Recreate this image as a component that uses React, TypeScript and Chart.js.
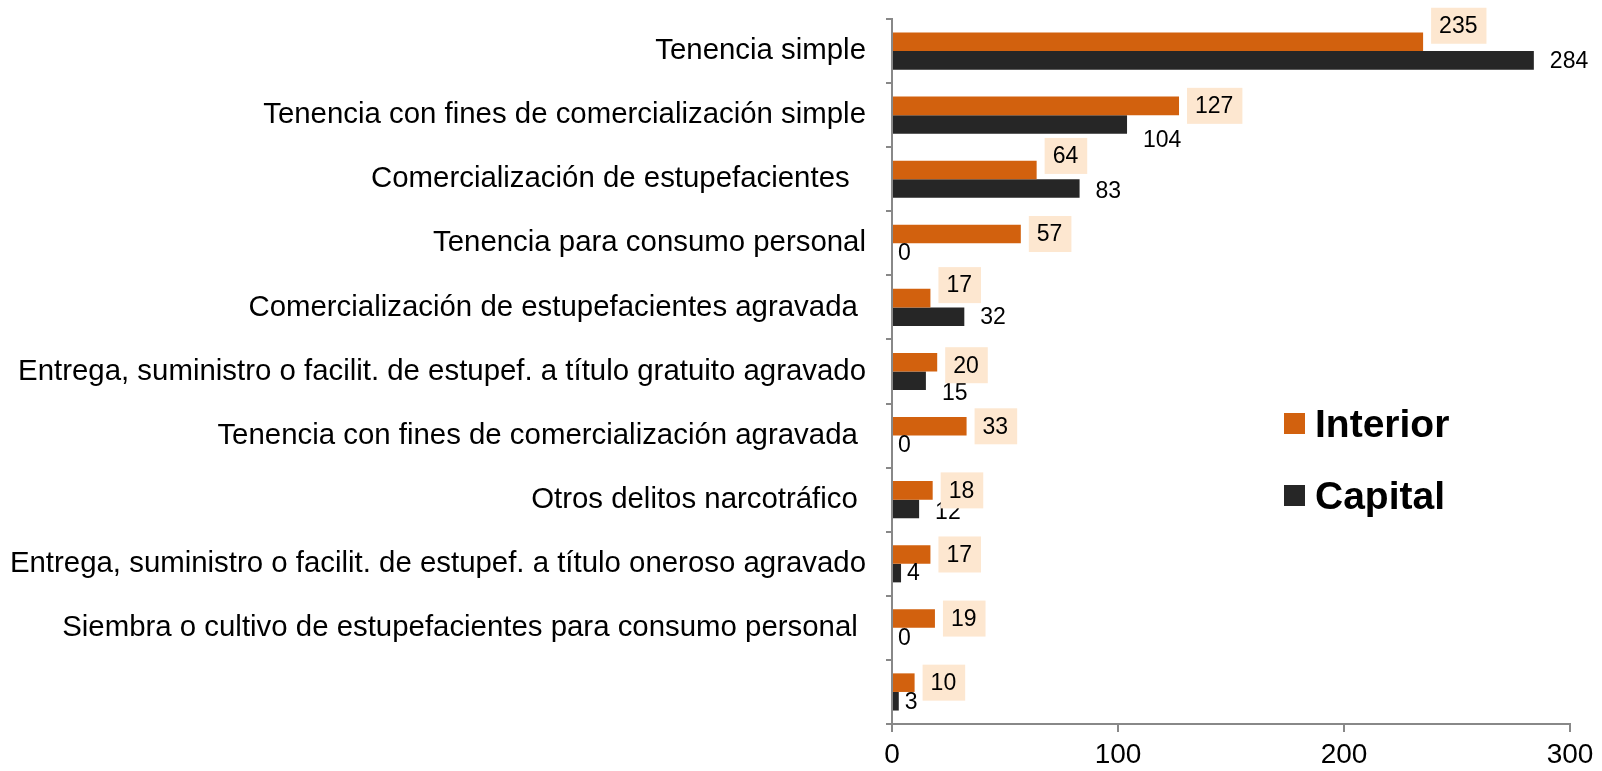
import React, { useEffect, useRef } from "react";
import { Chart, registerables } from "chart.js";

Chart.register(...registerables);

const categories = [
  "Tenencia simple",
  "Tenencia con fines de comercialización simple",
  "Comercialización de estupefacientes  ",
  "Tenencia para consumo personal",
  "Comercialización de estupefacientes agravada ",
  "Entrega, suministro o facilit. de estupef. a título gratuito agravado",
  "Tenencia con fines de comercialización agravada ",
  "Otros delitos narcotráfico ",
  "Entrega, suministro o facilit. de estupef. a título oneroso agravado",
  "Siembra o cultivo de estupefacientes para consumo personal ",
  "",
];
const interiorValues = [235, 127, 64, 57, 17, 20, 33, 18, 17, 19, 10];
const capitalValues = [284, 104, 83, 0, 32, 15, 0, 12, 4, 0, 3];
const seriesNames = ["Interior", "Capital"];
const xMin = 0;
const xMax = 300;
const xStep = 100;

// small vertical nudges (px) applied to the value labels, as in the original
const interiorLabelNudge = [-16, 0, -14, 0, -13, 3, 0, 0, 0, 0, 0];
const capitalLabelNudge = [0, 15, 2, 0, 0, 12, 0, 3, 0, 0, 0];

const FONT = "'Liberation Sans', Arial, sans-serif";
const ORANGE = "#D2610E";
const DARK = "#262626";
const LABEL_BG = "#FDE7D0";
const AXIS = "#888888";

const labelPlugin = {
  id: "valueLabels",
  afterDatasetsDraw(chart: any) {
    const ctx = chart.ctx;
    ctx.save();
    ctx.font = `23px ${FONT}`;
    ctx.textBaseline = "middle";
    ctx.textAlign = "left";
    const capMeta = chart.getDatasetMeta(1);
    capMeta.data.forEach((bar: any, i: number) => {
      const gap = capitalValues[i] < 5 ? 6 : 16;
      ctx.fillStyle = "#000";
      ctx.fillText(String(capitalValues[i]), bar.x + gap, bar.y + capitalLabelNudge[i] + 1);
    });
    const intMeta = chart.getDatasetMeta(0);
    intMeta.data.forEach((bar: any, i: number) => {
      const txt = String(interiorValues[i]);
      const w = ctx.measureText(txt).width;
      const bx = bar.x + 8;
      const cy = bar.y + interiorLabelNudge[i];
      ctx.fillStyle = LABEL_BG;
      ctx.fillRect(bx, cy - 18, w + 17, 36);
      ctx.fillStyle = "#000";
      ctx.fillText(txt, bx + 8, cy + 1);
    });

    // legend
    const lx = 1284;
    const items = [
      { name: seriesNames[0], color: ORANGE, y: 413 },
      { name: seriesNames[1], color: DARK, y: 485 },
    ];
    ctx.font = `bold 39px ${FONT}`;
    ctx.textBaseline = "alphabetic";
    items.forEach((it) => {
      ctx.fillStyle = it.color;
      ctx.fillRect(lx, it.y, 21, 21);
      ctx.fillStyle = "#000";
      ctx.fillText(it.name, lx + 31, it.y + 24);
    });
    ctx.restore();
  },
};

export default function App() {
  const ref = useRef<HTMLCanvasElement>(null);
  useEffect(() => {
    if (!ref.current) return;
    const chart = new Chart(ref.current, {
      type: "bar",
      data: {
        labels: categories,
        datasets: [
          {
            label: seriesNames[0],
            data: interiorValues,
            backgroundColor: ORANGE,
            categoryPercentage: 0.58,
            barPercentage: 1.0,
          },
          {
            label: seriesNames[1],
            data: capitalValues,
            backgroundColor: DARK,
            categoryPercentage: 0.58,
            barPercentage: 1.0,
          },
        ],
      },
      options: {
        indexAxis: "y",
        responsive: false,
        animation: false,
        layout: { padding: { left: 0, top: 19, right: 32, bottom: 0 } },
        plugins: {
          legend: { display: false },
          tooltip: { enabled: false },
        },
        scales: {
          x: {
            min: xMin,
            max: xMax,
            ticks: {
              stepSize: xStep,
              color: "#000",
              font: { family: FONT, size: 28 },
              padding: 6,
              maxRotation: 0,
            },
            grid: {
              drawOnChartArea: false,
              drawTicks: true,
              tickLength: 8,
              color: AXIS,
              lineWidth: 2,
            },
            border: { color: AXIS, width: 2 },
            afterFit: (scale: any) => {
              scale.height = 47;
            },
          },
          y: {
            ticks: {
              color: "#000",
              font: { family: FONT, size: 29.4 },
              autoSkip: false,
              padding: 20,
            },
            grid: {
              drawOnChartArea: false,
              drawTicks: true,
              tickLength: 6,
              color: AXIS,
              lineWidth: 2,
              offset: true,
            },
            border: { color: AXIS, width: 2 },
            afterFit: (scale: any) => {
              scale.width = 892;
              scale.paddingTop = 0;
              scale.paddingBottom = 0;
            },
          },
        },
      },
      plugins: [labelPlugin],
    });
    return () => chart.destroy();
  }, []);
  return (
    <div style={{ position: "fixed", left: 0, top: 0, width: 1602, height: 771, background: "#fff" }}>
      <canvas ref={ref} width={1602} height={771} style={{ display: "block" }} />
    </div>
  );
}
